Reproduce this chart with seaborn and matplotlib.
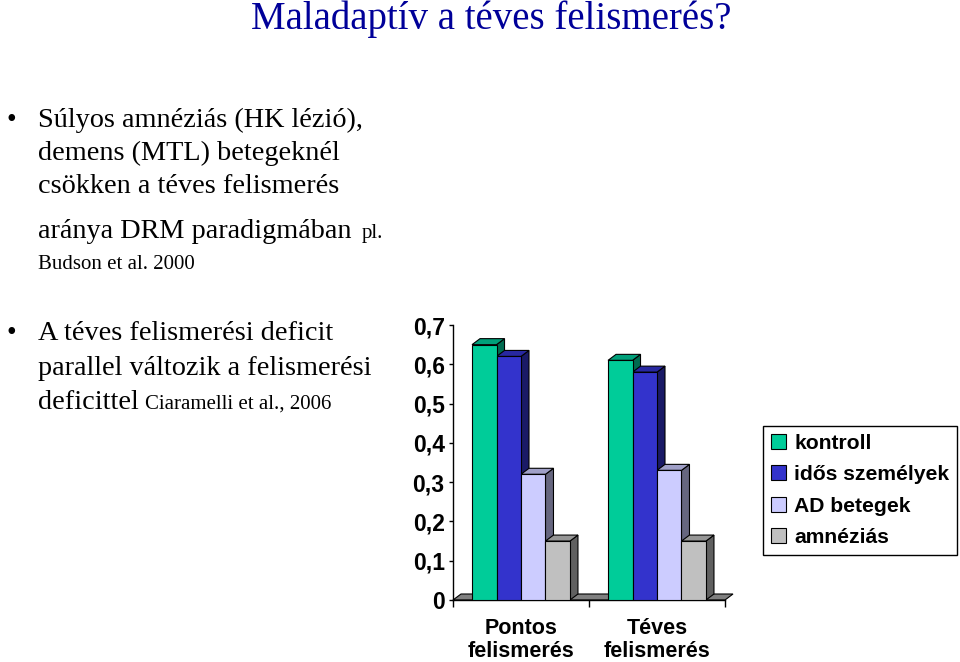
import matplotlib
matplotlib.use("Agg")
import matplotlib.pyplot as plt
import seaborn as sns
import pandas as pd
import numpy as np
from matplotlib.patches import Polygon

categories = ["Pontos\nfelismerés", "Téves\nfelismerés"]
groups = ["kontroll", "idős személyek", "AD betegek", "amnéziás"]
kontroll = [0.65, 0.61]
idos = [0.62, 0.58]
ad = [0.32, 0.33]
amnezias = [0.15, 0.15]
yticks = [0, 0.1, 0.2, 0.3, 0.4, 0.5, 0.6, 0.7]
ytick_labels = ["0", "0,1", "0,2", "0,3", "0,4", "0,5", "0,6", "0,7"]

front_colors = ["#00CC99", "#3333CC", "#CCCCFF", "#C0C0C0"]
side_colors = ["#006B50", "#1A1A66", "#66667F", "#606060"]
top_colors = ["#00A07A", "#2828A0", "#A0A0C8", "#969696"]

sns.set_theme(style="white")
plt.rcParams["font.family"] = ["Liberation Sans", "DejaVu Sans"]
plt.rcParams["text.color"] = "black"
plt.rcParams["xtick.color"] = "black"
plt.rcParams["ytick.color"] = "black"
plt.rcParams["axes.labelcolor"] = "black"

W, H = 960, 662
fig = plt.figure(figsize=(9.6, 6.62), dpi=100)

def fx(px):
    return px / W

def fy(py):
    return 1 - py / H

# ---- slide text ----
serif = ["Liberation Serif", "DejaVu Serif"]
fig.text(fx(491), fy(29), "Maladaptív a téves felismerés?", ha="center", va="baseline",
         fontsize=28, color="#000099", family=serif)

body = [
    (127, "Súlyos amnéziás (HK lézió),"),
    (160, "demens (MTL) betegeknél"),
    (193, "csökken a téves felismerés"),
]
fig.text(fx(6), fy(127), "•", ha="left", va="baseline", fontsize=20, family=serif)
for yb, s in body:
    fig.text(fx(38), fy(yb), s, ha="left", va="baseline", fontsize=20.3, family=serif)
fig.text(fx(38), fy(238), "aránya DRM paradigmában", ha="left", va="baseline",
         fontsize=20.3, family=serif)
fig.text(fx(362), fy(238), "pl.", ha="left", va="baseline", fontsize=15, family=serif)
fig.text(fx(38), fy(269), "Budson et al. 2000", ha="left", va="baseline", fontsize=15, family=serif)

fig.text(fx(6), fy(340), "•", ha="left", va="baseline", fontsize=20, family=serif)
fig.text(fx(38), fy(340), "A téves felismerési deficit", ha="left", va="baseline",
         fontsize=20.3, family=serif)
fig.text(fx(38), fy(375), "parallel változik a felismerési", ha="left", va="baseline",
         fontsize=20.3, family=serif)
fig.text(fx(38), fy(409), "deficittel", ha="left", va="baseline", fontsize=20.3, family=serif)
fig.text(fx(145), fy(409), "Ciaramelli et al., 2006", ha="left", va="baseline",
         fontsize=15, family=serif)

# ---- chart ----
x0, x1, ytop, ybot = 453, 725, 325, 600
ax = fig.add_axes([fx(x0), fy(ybot), (x1 - x0) / W, (ybot - ytop) / H])

rows = []
for i, c in enumerate(categories):
    for g, vals in zip(groups, [kontroll, idos, ad, amnezias]):
        rows.append({"cat": c, "group": g, "value": vals[i]})
df = pd.DataFrame(rows)

sns.barplot(data=df, x="cat", y="value", hue="group", hue_order=groups,
            palette=front_colors, width=0.72, saturation=1, edgecolor="black",
            linewidth=0.8, ax=ax, zorder=3)

ax.set_xlim(-0.5, 1.5)
ax.set_ylim(0, 0.7)

# depth offsets in data units (8 px right, 6 px up)
ddx = 8 / ((x1 - x0) / 2.0)
ddy = 6 / ((ybot - ytop) / 0.7)

# floor
floor = Polygon([(-0.5, 0), (1.5, 0), (1.5 + ddx, ddy), (-0.5 + ddx, ddy)], closed=True,
                facecolor="#808080", edgecolor="black", linewidth=0.8, zorder=1,
                clip_on=False)
ax.add_patch(floor)

# 3D faces
for k, container in enumerate(ax.containers):
    for bar in container:
        bx = bar.get_x()
        bw = bar.get_width()
        bh = bar.get_height()
        side = Polygon([(bx + bw, 0), (bx + bw + ddx, ddy), (bx + bw + ddx, bh + ddy), (bx + bw, bh)],
                       closed=True, facecolor=side_colors[k], edgecolor="black",
                       linewidth=0.8, zorder=2.5 + 0.01 * k, clip_on=False)
        top = Polygon([(bx, bh), (bx + ddx, bh + ddy), (bx + bw + ddx, bh + ddy), (bx + bw, bh)],
                      closed=True, facecolor=top_colors[k], edgecolor="black",
                      linewidth=0.8, zorder=2.5 + 0.01 * k, clip_on=False)
        ax.add_patch(side)
        ax.add_patch(top)

ax.set_yticks(yticks)
ax.set_yticklabels(ytick_labels, fontsize=16.5, fontweight="bold")
ax.set_xticks([0, 1])
ax.set_xticklabels(categories, fontsize=15.5, fontweight="bold", linespacing=1.1)
ax.set_xlabel("")
ax.set_ylabel("")
for s in ["top", "right"]:
    ax.spines[s].set_visible(False)
for s in ["left", "bottom"]:
    ax.spines[s].set_color("black")
    ax.spines[s].set_linewidth(1.0)
ax.tick_params(axis="y", which="both", left=True, length=3, width=1, color="black", pad=3)
ax.tick_params(axis="x", which="both", bottom=False, pad=7)
ax.set_xticks([-0.5, 0.5, 1.5], minor=True)
ax.tick_params(axis="x", which="minor", bottom=True, length=5, width=1, color="black")
ax.patch.set_alpha(0)

# legend
handles, labels = ax.get_legend_handles_labels()
ax.get_legend().remove()
leg = fig.legend(handles, labels, loc="upper left", bbox_to_anchor=(fx(763), fy(426)),
                 frameon=True, fancybox=False, framealpha=1, edgecolor="black",
                 prop={"family": ["Liberation Sans", "DejaVu Sans"], "weight": "bold", "size": 15.2},
                 handlelength=0.7, handleheight=0.7, handletextpad=0.4,
                 labelspacing=0.58, borderpad=0.38, borderaxespad=0)
leg.get_frame().set_linewidth(1.0)

fig.savefig("out.png", dpi=100)
